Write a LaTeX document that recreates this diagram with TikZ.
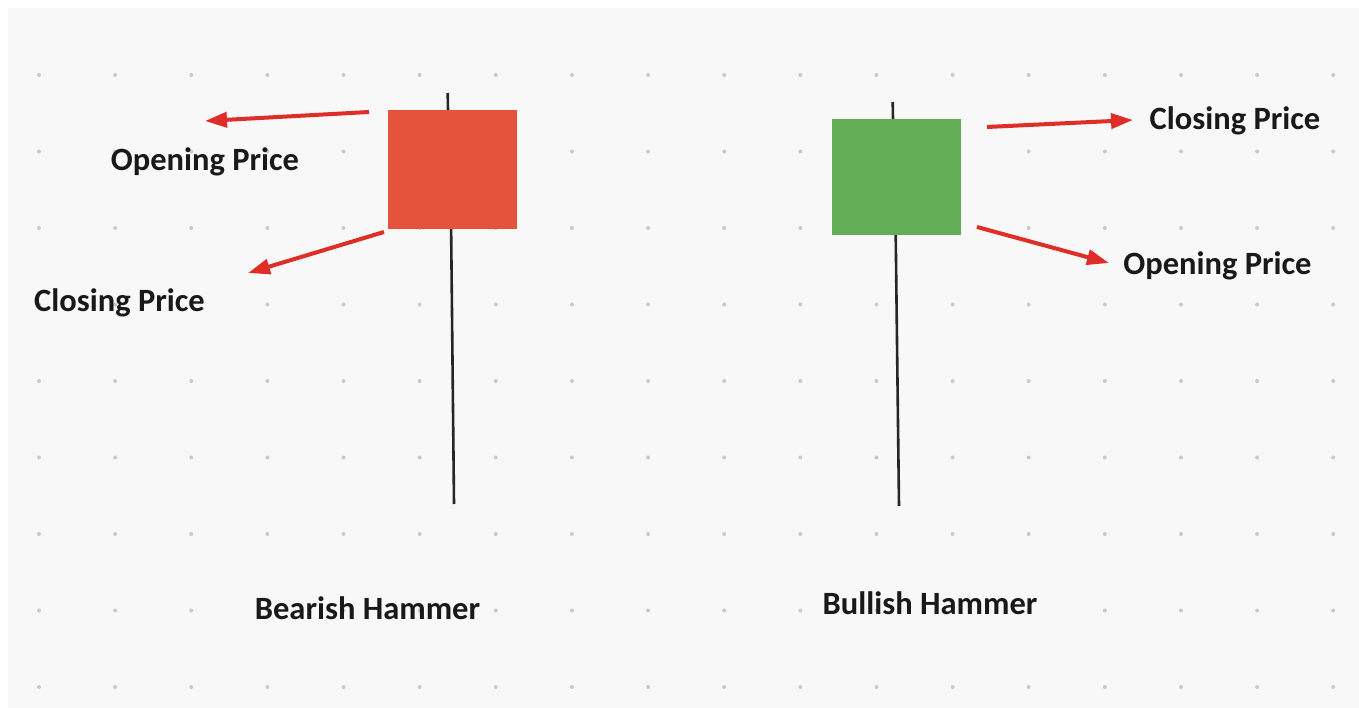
\documentclass[tikz,border=0pt]{standalone}
\usepackage{fontspec}
\setmainfont{Carlito}
\usetikzlibrary{arrows.meta}
\definecolor{bg}{HTML}{F8F8F8}
\definecolor{dotc}{HTML}{CACACA}
\definecolor{bear}{HTML}{E5533D}
\definecolor{bull}{HTML}{63AD57}
\definecolor{arr}{HTML}{DF2E28}
\tikzset{
  body/.style={draw=none, inner sep=0pt, outer sep=0pt},
  wick/.style={line width=2.6pt, black!85},
  pointer/.style={arr, line width=4pt, -{Triangle[length=22pt,width=15pt]}},
  lbl/.style={font=\bfseries\fontsize{32.5}{34}\selectfont, text=black!90, inner sep=0pt},
}
\begin{document}
\begin{tikzpicture}[x=1pt,y=-1pt]
\useasboundingbox (0,0) rectangle (1359,708);
\fill[white] (0,0) rectangle (1359,708);
\fill[bg] (8,8) rectangle (1359,708);
\foreach \i in {0,...,17} {
  \foreach \j in {0,...,8} {
    \fill[dotc] ({39+76.13*\i},{75+76.5*\j}) circle (2pt);
  }
}
% bearish candle
\coordinate (bwt) at (447.7,93);
\coordinate (bwb) at (454,504);
\draw[wick] (bwt) -- (449,170);
\draw[wick] (450.5,170) -- (bwb);
\fill[bear] (388,110) rectangle (517,229);
\node[body, minimum width=129pt, minimum height=119pt] (bearbody) at (452.5,169.5) {};
% bullish candle
\coordinate (gwt) at (892.7,102);
\coordinate (gwb) at (899,506);
\draw[wick] (gwt) -- (894,177);
\draw[wick] (895,177) -- (gwb);
\fill[bull] (832,119) rectangle (961,235);
\node[body, minimum width=129pt, minimum height=116pt] (bullbody) at (896.5,177) {};
% labels
\node[lbl] (bopen) at (205,162) {Opening Price};
\node[lbl] (bclose) at (119.5,303) {Closing Price};
\node[lbl] (gclose) at (1235,121) {Closing Price};
\node[lbl] (gopen) at (1217.5,266) {Opening Price};
\node[lbl] (bearlbl) at (367.5,608) {Bearish Hammer};
\node[lbl] (bulllbl) at (930,603) {Bullish Hammer};
% arrows
\coordinate (a1s) at (369,112); \coordinate (a1e) at (205,121);
\coordinate (a2s) at (384,232); \coordinate (a2e) at (248,273);
\coordinate (a3s) at (987,127); \coordinate (a3e) at (1133,120);
\coordinate (a4s) at (977,227); \coordinate (a4e) at (1109,263);
\draw[pointer] (a1s) -- (a1e);
\draw[pointer] (a2s) -- (a2e);
\draw[pointer] (a3s) -- (a3e);
\draw[pointer] (a4s) -- (a4e);
\end{tikzpicture}
\end{document}
